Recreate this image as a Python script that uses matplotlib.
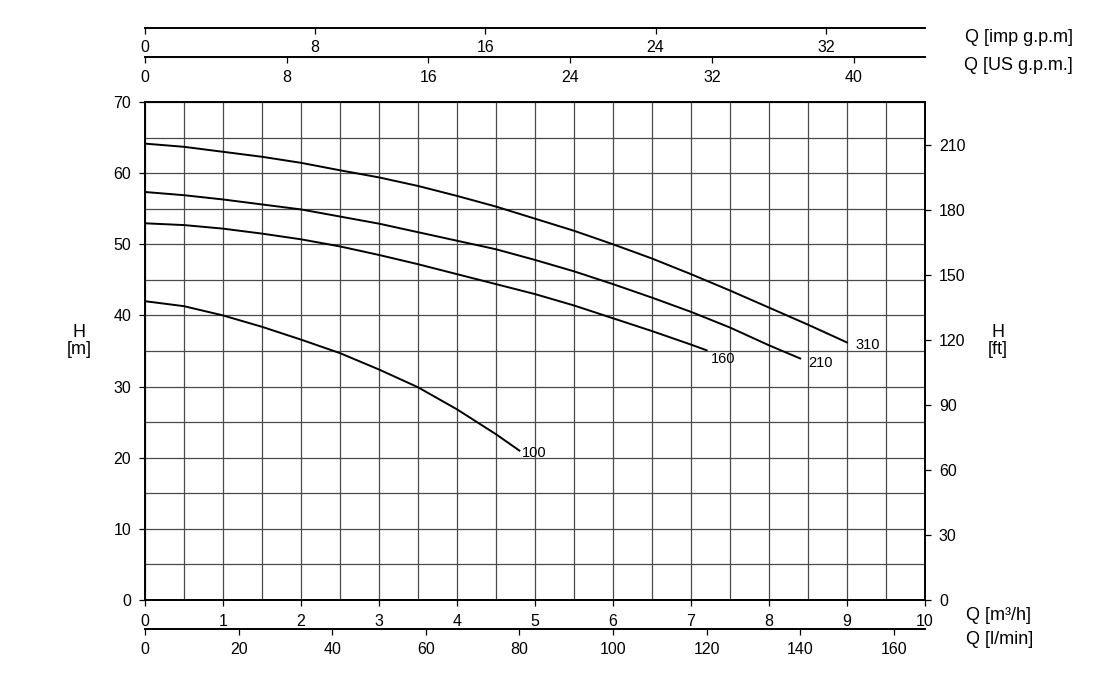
#!/usr/bin/env python3
"""Pump performance curves H(Q) with extra unit axes."""
import numpy as np
import matplotlib.pyplot as plt
from matplotlib.ticker import MultipleLocator

plt.rcParams['font.family'] = ['Liberation Sans', 'DejaVu Sans']

# curves: flow [m3/h] and head [m]
q_310 = [0, 0.5, 1, 1.5, 2, 2.5, 3, 3.5, 4, 4.5, 5, 5.5, 6, 6.5, 7, 7.5, 8, 8.5, 9]
h_310 = [64.15, 63.7, 63.0, 62.3, 61.45, 60.4, 59.4, 58.2, 56.8, 55.3, 53.6,
         51.9, 50.0, 48.0, 45.8, 43.5, 41.1, 38.7, 36.2]
q_210 = [0, 0.5, 1, 1.5, 2, 2.5, 3, 3.5, 4, 4.5, 5, 5.5, 6, 6.5, 7, 7.5, 8, 8.4]
h_210 = [57.35, 56.9, 56.3, 55.6, 54.9, 53.9, 52.9, 51.7, 50.5, 49.3, 47.8,
         46.2, 44.4, 42.5, 40.5, 38.3, 35.8, 33.95]
q_160 = [0, 0.5, 1, 1.5, 2, 2.5, 3, 3.5, 4, 4.5, 5, 5.5, 6, 6.5, 7, 7.2]
h_160 = [52.95, 52.7, 52.2, 51.5, 50.7, 49.7, 48.5, 47.2, 45.8, 44.4, 43.0,
         41.4, 39.6, 37.8, 35.9, 35.1]
q_100 = [0, 0.5, 1, 1.5, 2, 2.5, 3, 3.5, 4, 4.5, 4.8]
h_100 = [42.0, 41.3, 40.0, 38.4, 36.6, 34.7, 32.4, 29.9, 26.8, 23.3, 21.0]

# label name, flow, head, text offset in points
curves = [('310', q_310, h_310, (6, -1.5)),
          ('210', q_210, h_210, (6, -3.5)),
          ('160', q_160, h_160, (3, -6)),
          ('100', q_100, h_100, (2, -2))]

# unit conversions from m3/h
M_TO_FT = 3.2808
TO_LMIN = 1000 / 60
TO_USGPM = 4.4029
TO_IMPGPM = 3.6662

ft_ticks = [0, 30, 60, 90, 120, 150, 180, 210]
lmin_ticks = [0, 20, 40, 60, 80, 100, 120, 140, 160]
usgpm_ticks = [0, 8, 16, 24, 32, 40]
impgpm_ticks = [0, 8, 16, 24, 32]

Q_MAX = 10
H_MAX = 70

fig = plt.figure(figsize=(10.94, 6.96), dpi=100)
L, B, W, H = 145 / 1094, 96 / 696, 780 / 1094, 498 / 696
ax = fig.add_axes([L, B, W, H])

ax.set_xlim(0, Q_MAX)
ax.set_ylim(0, H_MAX)
ax.xaxis.set_major_locator(MultipleLocator(1))
ax.xaxis.set_minor_locator(MultipleLocator(0.5))
ax.yaxis.set_major_locator(MultipleLocator(10))
ax.yaxis.set_minor_locator(MultipleLocator(5))
ax.grid(True, which='both', color='#4a4a4a', lw=0.9)
ax.set_axisbelow(True)
ax.tick_params(which='minor', length=0)
ax.tick_params(which='major', length=4, width=0.9, labelsize=11.5)
ax.tick_params(axis='x', pad=6)
ax.tick_params(axis='y', pad=6)
for s in ax.spines.values():
    s.set_linewidth(1.4)

for name, q, h, off in curves:
    ax.plot(q, h, color='black', lw=1.4)
    ax.annotate(name, (q[-1], h[-1]), xytext=off, textcoords='offset points',
                ha='left', va='center', fontsize=10.5)

# right axis in feet
axr = ax.twinx()
axr.set_ylim(0, H_MAX * M_TO_FT)
axr.set_yticks(ft_ticks)
axr.tick_params(length=4, width=0.9, labelsize=11.5, pad=6)
for s in axr.spines.values():
    s.set_visible(False)


def unit_axis(ypix, scale, ticks):
    a = fig.add_axes([L, 1 - ypix / 696, W, 1e-6])
    a.set_xlim(0, Q_MAX * scale)
    a.set_xticks(ticks)
    a.set_yticks([])
    for k in ('top', 'left', 'right'):
        a.spines[k].set_visible(False)
    a.spines['bottom'].set_linewidth(1.4)
    a.tick_params(length=4, width=0.9, labelsize=11.5, pad=5)
    a.patch.set_visible(False)
    return a


unit_axis(629, TO_LMIN, lmin_ticks)
unit_axis(57, TO_USGPM, usgpm_ticks)
unit_axis(28, TO_IMPGPM, impgpm_ticks)

lab = dict(fontsize=13, ha='center', va='center', linespacing=1.05)
fig.text(79 / 1094, 1 - 341 / 696, 'H\n[m]', **lab)
fig.text(998 / 1094, 1 - 341 / 696, 'H\n[ft]', **lab)
fig.text(966 / 1094, 1 - 615 / 696, 'Q [m³/h]', fontsize=13, ha='left', va='center')
fig.text(966 / 1094, 1 - 640 / 696, 'Q [l/min]', fontsize=13, ha='left', va='center')
fig.text(1073 / 1094, 1 - 37 / 696, 'Q [imp g.p.m]', fontsize=13, ha='right', va='center')
fig.text(1073 / 1094, 1 - 66 / 696, 'Q [US g.p.m.]', fontsize=13, ha='right', va='center')

fig.savefig('out.png', dpi=100)
